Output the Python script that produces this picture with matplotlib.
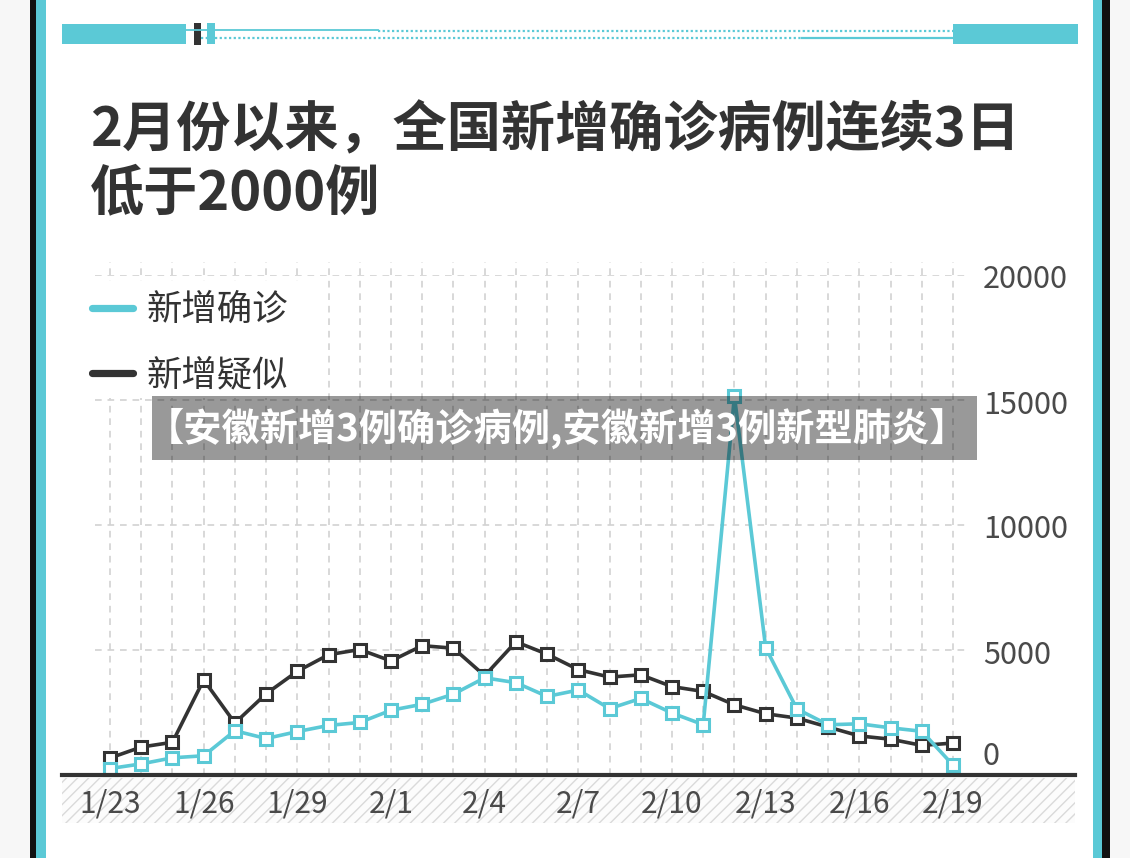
import matplotlib
matplotlib.use('Agg')
import matplotlib.pyplot as plt
from matplotlib.patches import Rectangle
from matplotlib.lines import Line2D
from matplotlib.transforms import offset_copy

# ---------------- data ----------------
dates = ['1/23', '1/24', '1/25', '1/26', '1/27', '1/28', '1/29', '1/30', '1/31',
         '2/1', '2/2', '2/3', '2/4', '2/5', '2/6', '2/7', '2/8', '2/9', '2/10',
         '2/11', '2/12', '2/13', '2/14', '2/15', '2/16', '2/17', '2/18', '2/19']
confirmed = [259, 444, 688, 769, 1771, 1459, 1737, 1982, 2102, 2590, 2829, 3235,
             3887, 3694, 3143, 3399, 2656, 3062, 2478, 2015, 15152, 5090, 2641,
             2009, 2048, 1886, 1749, 394]
suspected = [680, 1118, 1309, 3806, 2077, 3248, 4148, 4812, 5019, 4562, 5173, 5072,
             3971, 5328, 4833, 4214, 3916, 4008, 3536, 3342, 2807, 2450, 2277,
             1918, 1563, 1432, 1185, 1277]
series_names = ['新增确诊', '新增疑似']
ytick_values = [0, 5000, 10000, 15000, 20000]
ytick_labels = ['0', '5000', '10000', '15000', '20000']
title_lines = ['2月份以来，全国新增确诊病例连续3日', '低于2000例']
banner = '【安徽新增3例确诊病例,安徽新增3例新型肺炎】'

CYAN = '#5BC9D6'
DARK = '#333333'
GRID = '#d2d2d2'
LABEL = '#4a4a4a'

plt.rcParams['font.family'] = ['Noto Sans CJK SC', 'DejaVu Sans']

W, H = 1130, 858
fig = plt.figure(figsize=(W / 100, H / 100), dpi=100)
fig.patch.set_facecolor('white')


def fx(x):
    return x / W


def fy(y):
    return 1 - y / H


def frect(x0, y0, x1, y1, color, **kw):
    fig.add_artist(Rectangle((fx(x0), fy(y1)), (x1 - x0) / W, (y1 - y0) / H,
                             transform=fig.transFigure, facecolor=color,
                             edgecolor='none', **kw))


def fline(x0, x1, y, **kw):
    fig.add_artist(Line2D([fx(x0), fx(x1)], [fy(y), fy(y)],
                          transform=fig.transFigure, **kw))


# ---------------- outer frame ----------------
frect(0, 0, 30, H, '#f7f7f7')
frect(30, 0, 36, H, '#111111')
frect(36, 0, 46, H, CYAN)
frect(1093, 0, 1102, H, CYAN)
frect(1102, 0, 1110, H, '#111111')
frect(1110, 0, W, H, '#f7f7f7')

# top decoration
frect(62, 24, 186, 44, CYAN)
frect(953, 24, 1078, 44, CYAN)
frect(194, 23, 201, 45, DARK)
frect(207, 23, 215, 44, CYAN)
fline(186, 378, 29.5, color=CYAN, lw=1.3)
fline(378, 953, 31, color=CYAN, lw=1.6, linestyle=(0, (1, 1.1)))
fline(201, 802, 37.5, color=CYAN, lw=1.6, linestyle=(0, (1, 1.1)))
fline(802, 953, 38, color=CYAN, lw=1.6)

# ---------------- title ----------------
fig.text(fx(90), fy(131), title_lines[0], fontsize=39, color=DARK,
         fontweight='bold', ha='left', va='center')
fig.text(fx(90), fy(194), title_lines[1], fontsize=39, color=DARK,
         fontweight='bold', ha='left', va='center')

# ---------------- axes ----------------
ax = fig.add_axes([fx(62), fy(775), (1075 - 62) / W, 500 / H])
ax.set_facecolor('none')
x = list(range(len(dates)))
ax.set_xlim(-1.537, 30.907)
ax.set_ylim(0, 20000)

for s in ['left', 'right', 'top']:
    ax.spines[s].set_visible(False)
ax.spines['bottom'].set_color(DARK)
ax.spines['bottom'].set_linewidth(3)
ax.spines['bottom'].set_zorder(6)

# grid
ax.hlines(ytick_values[1:], -0.48, 27.48, colors=GRID, lw=1.2,
          linestyles=(0, (4, 3.5)), zorder=1)
ax.vlines(x, 0, 20520, colors=GRID, lw=1.2, linestyles=(0, (4, 3.5)),
          zorder=1, clip_on=False)

# hatched band under axis
ax.add_patch(Rectangle((0, -0.096), 1, 0.091, transform=ax.transAxes,
                       clip_on=False, facecolor='#fcfcfc', edgecolor='#dadada',
                       hatch='///', lw=0, zorder=0))

# legend backing box (covers grid)
ax.add_patch(Rectangle((fx(85), fy(398)), (320 - 85) / W, (398 - 281) / H,
                       transform=fig.transFigure, facecolor='white',
                       edgecolor='none', zorder=2))

# lines
ax.plot(x, suspected, color=DARK, lw=2.6, marker='s', markersize=8.5,
        markerfacecolor='white', markeredgecolor=DARK, markeredgewidth=2.2,
        zorder=4, clip_on=False)
ax.plot(x, confirmed, color=CYAN, lw=2.6, marker='s', markersize=8.5,
        markerfacecolor='white', markeredgecolor=CYAN, markeredgewidth=2.2,
        zorder=5, clip_on=False)

# x ticks
ax.set_xticks(x[::3])
ax.set_xticklabels(dates[::3])
ax.tick_params(axis='x', length=0, pad=10, labelsize=21.5, labelcolor=LABEL)
for t in ax.get_xticklabels():
    t.set_fontweight('light')
ax.set_yticks([])

# y labels on right
for v, lab in zip(ytick_values, ytick_labels):
    dy = 13 if v == 0 else -3.6
    tr = offset_copy(ax.transData, fig=fig, x=0, y=dy, units='points')
    ax.text(27.96, v, lab, transform=tr, ha='left', va='center',
            fontsize=22, color=LABEL, fontweight='light', clip_on=False)

# legend
handles = [Line2D([], [], color=CYAN, lw=5.2, solid_capstyle='round'),
           Line2D([], [], color=DARK, lw=5.2, solid_capstyle='round')]
leg = ax.legend(handles, series_names, loc='upper left',
                bbox_to_anchor=(fx(92), fy(292)), bbox_transform=fig.transFigure,
                frameon=False, fontsize=25.5, handlelength=1.15,
                handletextpad=0.4, labelspacing=0.82, borderpad=0,
                borderaxespad=0)
for t in leg.get_texts():
    t.set_color(DARK)
leg.set_zorder(7)

# ---------------- banner overlay ----------------
frect(152, 396, 977, 460, 'black', alpha=0.4, zorder=20)
fig.text(fx(557), fy(428), banner, fontsize=27.5, color='white',
         fontweight='bold', ha='center', va='center', zorder=21)

fig.savefig('out.png', dpi=100)
